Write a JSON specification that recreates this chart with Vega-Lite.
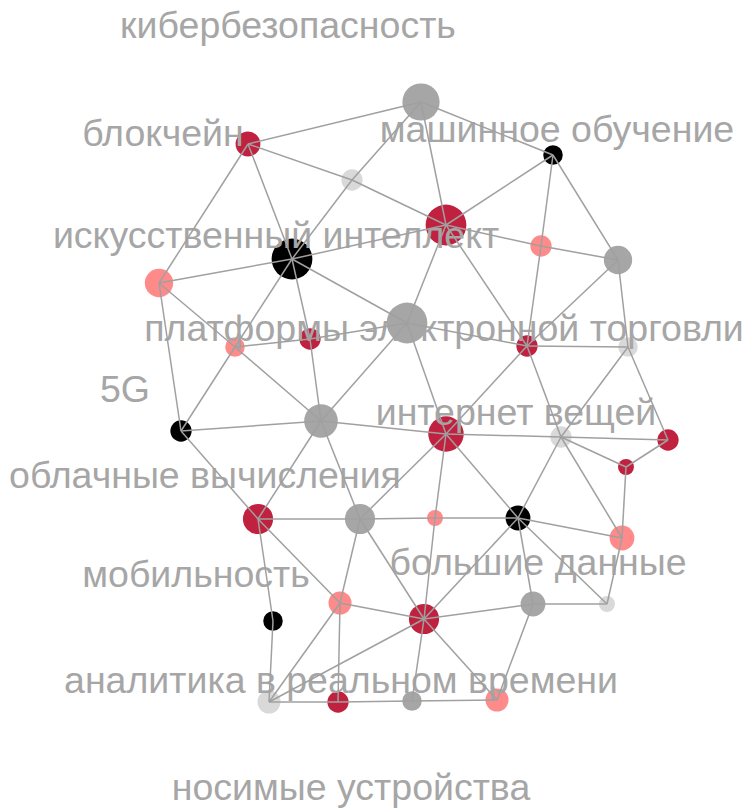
{
  "$schema": "https://vega.github.io/schema/vega-lite/v6.json",
  "width": 746,
  "height": 809,
  "autosize": {"type": "none"},
  "padding": 0,
  "background": "white",
  "config": {"view": {"stroke": null}},
  "datasets": {
    "nodes": [
      {"id": 1, "x": 421, "y": 102, "value": 21, "group": "серый"},
      {"id": 2, "x": 248, "y": 144, "value": 14, "group": "красный"},
      {"id": 3, "x": 553, "y": 155, "value": 11, "group": "чёрный"},
      {"id": 4, "x": 352, "y": 180, "value": 12, "group": "светлый"},
      {"id": 5, "x": 446, "y": 225, "value": 23, "group": "красный"},
      {"id": 6, "x": 292, "y": 259, "value": 23, "group": "чёрный"},
      {"id": 7, "x": 541, "y": 246, "value": 12, "group": "розовый"},
      {"id": 8, "x": 618, "y": 260, "value": 16, "group": "серый"},
      {"id": 9, "x": 159, "y": 283, "value": 16, "group": "розовый"},
      {"id": 10, "x": 407, "y": 323, "value": 23, "group": "серый"},
      {"id": 11, "x": 310, "y": 339, "value": 12, "group": "красный"},
      {"id": 12, "x": 235, "y": 347, "value": 11, "group": "розовый"},
      {"id": 13, "x": 527, "y": 346, "value": 12, "group": "красный"},
      {"id": 14, "x": 628, "y": 347, "value": 11, "group": "светлый"},
      {"id": 15, "x": 181, "y": 431, "value": 12, "group": "чёрный"},
      {"id": 16, "x": 321, "y": 421, "value": 19, "group": "серый"},
      {"id": 17, "x": 446, "y": 434, "value": 20, "group": "красный"},
      {"id": 18, "x": 561, "y": 437, "value": 12, "group": "светлый"},
      {"id": 19, "x": 668, "y": 440, "value": 12, "group": "красный"},
      {"id": 20, "x": 626, "y": 467, "value": 9, "group": "красный"},
      {"id": 21, "x": 258, "y": 519, "value": 17, "group": "красный"},
      {"id": 22, "x": 360, "y": 519, "value": 17, "group": "серый"},
      {"id": 23, "x": 435, "y": 518, "value": 9, "group": "розовый"},
      {"id": 24, "x": 518, "y": 518, "value": 14, "group": "чёрный"},
      {"id": 25, "x": 622, "y": 538, "value": 14, "group": "розовый"},
      {"id": 26, "x": 340, "y": 603, "value": 13, "group": "розовый"},
      {"id": 27, "x": 424, "y": 619, "value": 17, "group": "красный"},
      {"id": 28, "x": 533, "y": 604, "value": 14, "group": "серый"},
      {"id": 29, "x": 607, "y": 604, "value": 9, "group": "светлый"},
      {"id": 30, "x": 273, "y": 621, "value": 11, "group": "чёрный"},
      {"id": 31, "x": 269, "y": 702, "value": 13, "group": "светлый"},
      {"id": 32, "x": 338, "y": 702, "value": 12, "group": "красный"},
      {"id": 33, "x": 412, "y": 701, "value": 11, "group": "серый"},
      {"id": 34, "x": 497, "y": 700, "value": 13, "group": "розовый"}
    ],
    "edges": [
      {"s": 1, "t": 2}, {"s": 1, "t": 4}, {"s": 1, "t": 5}, {"s": 1, "t": 3},
      {"s": 4, "t": 6}, {"s": 2, "t": 4}, {"s": 4, "t": 5}, {"s": 2, "t": 6}, {"s": 2, "t": 9},
      {"s": 3, "t": 5}, {"s": 3, "t": 7}, {"s": 7, "t": 13}, {"s": 3, "t": 8},
      {"s": 5, "t": 7}, {"s": 7, "t": 8}, {"s": 5, "t": 10}, {"s": 5, "t": 13}, {"s": 5, "t": 6},
      {"s": 6, "t": 9}, {"s": 6, "t": 12}, {"s": 6, "t": 11}, {"s": 6, "t": 10},
      {"s": 9, "t": 12}, {"s": 9, "t": 15}, {"s": 12, "t": 11}, {"s": 11, "t": 10},
      {"s": 12, "t": 15}, {"s": 12, "t": 16}, {"s": 11, "t": 16},
      {"s": 10, "t": 16}, {"s": 10, "t": 17}, {"s": 10, "t": 13},
      {"s": 13, "t": 14}, {"s": 13, "t": 8}, {"s": 13, "t": 17}, {"s": 13, "t": 18},
      {"s": 8, "t": 14}, {"s": 14, "t": 18}, {"s": 14, "t": 19},
      {"s": 15, "t": 16}, {"s": 15, "t": 21},
      {"s": 16, "t": 17}, {"s": 16, "t": 21}, {"s": 16, "t": 22},
      {"s": 17, "t": 18}, {"s": 18, "t": 19}, {"s": 17, "t": 22}, {"s": 17, "t": 23}, {"s": 23, "t": 27}, {"s": 17, "t": 24},
      {"s": 18, "t": 24}, {"s": 18, "t": 20}, {"s": 18, "t": 25}, {"s": 19, "t": 20}, {"s": 20, "t": 25},
      {"s": 21, "t": 22}, {"s": 22, "t": 23}, {"s": 23, "t": 24}, {"s": 21, "t": 26}, {"s": 21, "t": 30},
      {"s": 22, "t": 26}, {"s": 22, "t": 27},
      {"s": 24, "t": 25}, {"s": 24, "t": 27}, {"s": 24, "t": 28}, {"s": 24, "t": 29},
      {"s": 26, "t": 27}, {"s": 26, "t": 31}, {"s": 26, "t": 32},
      {"s": 27, "t": 28}, {"s": 27, "t": 31}, {"s": 27, "t": 33}, {"s": 27, "t": 34},
      {"s": 28, "t": 29}, {"s": 28, "t": 34}, {"s": 25, "t": 29},
      {"s": 30, "t": 31}, {"s": 31, "t": 32}, {"s": 32, "t": 33}, {"s": 33, "t": 34}
    ],
    "labels": [
      {"text": "кибербезопасность", "x": 288, "y": 27},
      {"text": "блокчейн", "x": 163, "y": 135},
      {"text": "машинное обучение", "x": 557, "y": 131},
      {"text": "искусственный интеллект", "x": 276, "y": 237},
      {"text": "платформы электронной торговли", "x": 444, "y": 330},
      {"text": "5G", "x": 125, "y": 391},
      {"text": "интернет вещей", "x": 516, "y": 414},
      {"text": "облачные вычисления", "x": 205, "y": 477},
      {"text": "большие данные", "x": 538, "y": 564},
      {"text": "мобильность", "x": 196, "y": 576},
      {"text": "аналитика в реальном времени", "x": 341, "y": 682},
      {"text": "носимые устройства", "x": 351, "y": 789}
    ]
  },
  "layer": [
    {
      "data": {"name": "nodes"},
      "mark": {"type": "circle", "opacity": 1},
      "encoding": {
        "x": {"field": "x", "type": "quantitative", "scale": {"domain": [0, 746], "nice": false}, "axis": null},
        "y": {"field": "y", "type": "quantitative", "scale": {"domain": [0, 809], "reverse": true, "nice": false}, "axis": null},
        "size": {"field": "value", "type": "quantitative", "scale": {"type": "pow", "exponent": 2, "domain": [0, 25], "range": [0, 1963]}, "legend": null},
        "color": {"field": "group", "type": "nominal", "scale": {"domain": ["красный", "розовый", "серый", "светлый", "чёрный"], "range": ["#C0213F", "#FF8A8A", "#A6A6A6", "#D9D9D9", "#000000"]}, "legend": null}
      }
    },
    {
      "data": {"name": "labels"},
      "mark": {"type": "text", "font": "Liberation Sans", "fontSize": 37.5, "color": "#A6A6A6", "align": "center", "baseline": "middle"},
      "encoding": {
        "x": {"field": "x", "type": "quantitative"},
        "y": {"field": "y", "type": "quantitative"},
        "text": {"field": "text"}
      }
    },
    {
      "data": {"name": "edges"},
      "transform": [
        {"lookup": "s", "from": {"data": {"name": "nodes"}, "key": "id", "fields": ["x", "y"]}, "as": ["x1", "y1"]},
        {"lookup": "t", "from": {"data": {"name": "nodes"}, "key": "id", "fields": ["x", "y"]}, "as": ["x2", "y2"]}
      ],
      "mark": {"type": "rule", "color": "#A0A0A0", "strokeWidth": 1.5},
      "encoding": {
        "x": {"field": "x1", "type": "quantitative"},
        "y": {"field": "y1", "type": "quantitative"},
        "x2": {"field": "x2"},
        "y2": {"field": "y2"}
      }
    }
  ]
}
